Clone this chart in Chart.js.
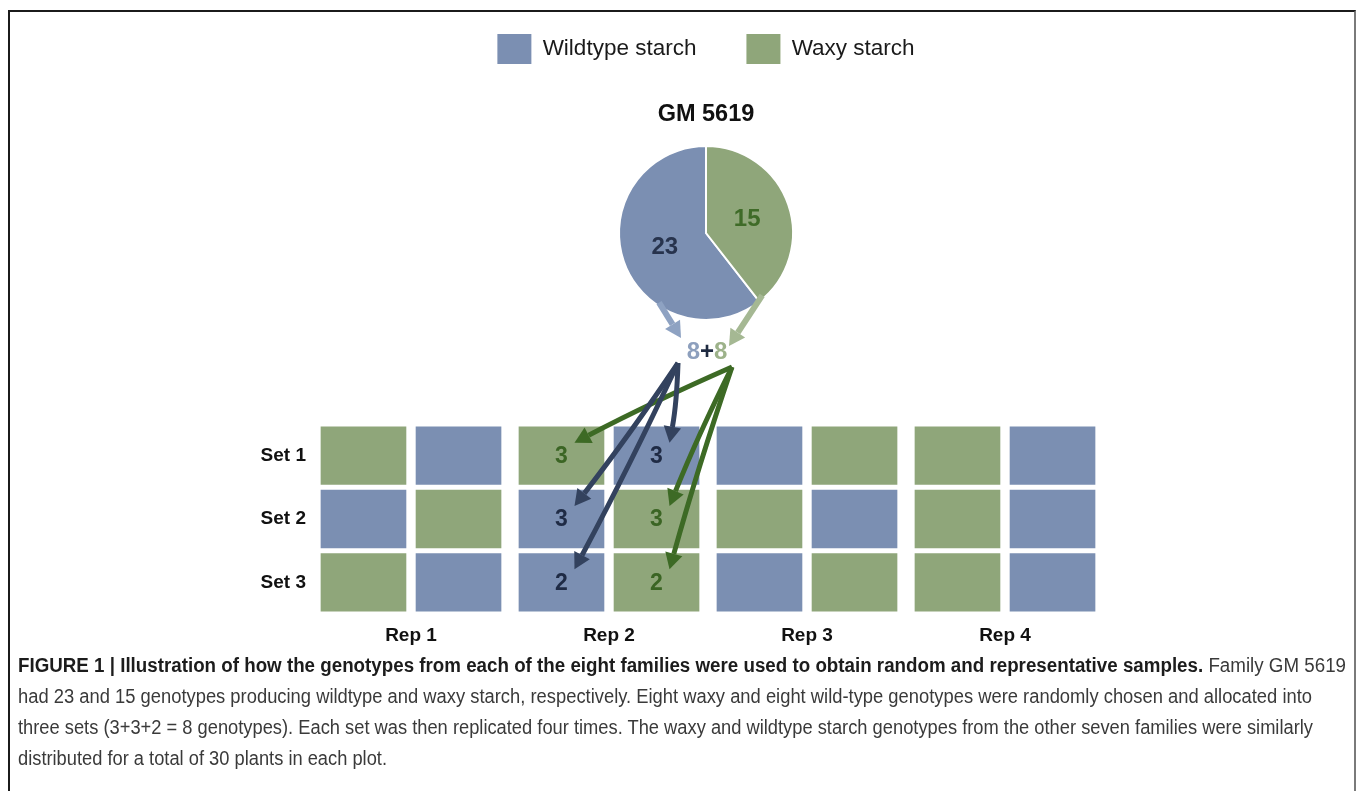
<!DOCTYPE html>
<html>
<head>
<meta charset="utf-8">
<script src="https://cdn.jsdelivr.net/npm/chart.js@4.4.1/dist/chart.umd.min.js"></script>
<style>
  html, body { margin:0; padding:0; background:#fff; width:1357px; height:791px; overflow:hidden; font-family:'Liberation Sans', Arial, sans-serif; }
  #frame { position:absolute; left:8px; top:10px; width:1344px; height:800px; border-top:2px solid #1b1b1b; border-left:2px solid #1b1b1b; border-right:2px solid #7a7a7a; }
  #gridChart { position:absolute; left:0; top:0; z-index:1; }
  #pieChart { position:absolute; left:426px; top:-16px; z-index:2; }
  #caption { position:absolute; left:18px; top:650px; z-index:3; font-size:20px; line-height:31px; color:#3a3a3a; }
  #caption .line { white-space:nowrap; transform-origin:0 0; width:max-content; }
  #caption b { color:#1c1c1c; }
</style>
</head>
<body>
<div id="frame"></div>
<canvas id="gridChart" width="1357" height="680"></canvas>
<canvas id="pieChart" width="560" height="386"></canvas>
<div id="caption">
  <div class="line" data-w="1328"><b>FIGURE 1 | Illustration of how the genotypes from each of the eight families were used to obtain random and representative samples.</b> Family GM 5619</div>
  <div class="line" data-w="1294">had 23 and 15 genotypes producing wildtype and waxy starch, respectively. Eight waxy and eight wild-type genotypes were randomly chosen and allocated into</div>
  <div class="line" data-w="1295">three sets (3+3+2 = 8 genotypes). Each set was then replicated four times. The waxy and wildtype starch genotypes from the other seven families were similarly</div>
  <div class="line" data-w="369">distributed for a total of 30 plants in each plot.</div>
</div>
<script>
var family = "'Liberation Sans', Arial, sans-serif";

// family GM 5619
var familyName = 'GM 5619';
var starchTypes = ['Wildtype starch', 'Waxy starch'];
var familyCounts = [23, 15];
var picked = [8, 8];

// field layout, T = wildtype, W = waxy (two plots per rep, left to right)
var reps = ['Rep 1', 'Rep 2', 'Rep 3', 'Rep 4'];
var sets = ['Set 1', 'Set 2', 'Set 3'];
var setCounts = [3, 3, 2];
var set1Plots = ['W', 'T', 'W', 'T', 'T', 'W', 'W', 'T'];
var set2Plots = ['T', 'W', 'T', 'W', 'W', 'T', 'W', 'T'];
var set3Plots = ['W', 'T', 'T', 'W', 'T', 'W', 'W', 'T'];
var plotRows = [set1Plots, set2Plots, set3Plots];
var shownRep = 2;

var wildColor = '#7b8fb2';
var waxyColor = '#8fa67a';
var wildLight = '#8ea2c2';
var waxyLight = '#a5b893';
var wildDark = '#33425e';
var waxyDark = '#3d6a25';

function drawArrow(ctx, x0, y0, x1, y1, bend, color, width, head) {
    var len = Math.hypot(x1 - x0, y1 - y0);
    var nx = -(y1 - y0) / len, ny = (x1 - x0) / len;
    var cx = (x0 + x1) / 2 + nx * bend, cy = (y0 + y1) / 2 + ny * bend;
    var ang = Math.atan2(y1 - cy, x1 - cx);
    var bx = x1 - Math.cos(ang) * head, by = y1 - Math.sin(ang) * head;
    ctx.save();
    ctx.strokeStyle = color;
    ctx.fillStyle = color;
    ctx.lineWidth = width;
    ctx.lineCap = 'butt';
    ctx.beginPath();
    ctx.moveTo(x0, y0);
    ctx.quadraticCurveTo(cx, cy, bx, by);
    ctx.stroke();
    var hw = head * 0.55;
    ctx.beginPath();
    ctx.moveTo(x1, y1);
    ctx.lineTo(bx + Math.cos(ang + Math.PI / 2) * hw, by + Math.sin(ang + Math.PI / 2) * hw);
    ctx.lineTo(bx - Math.cos(ang + Math.PI / 2) * hw, by - Math.sin(ang + Math.PI / 2) * hw);
    ctx.closePath();
    ctx.fill();
    ctx.restore();
}

// where "8+8" sits, below the pie centre
function pickedCenter(arc) {
    return { x: arc.x + 1, y: arc.y + 119 };
}

var piePlugin = {
    id: 'pieLabels',
    afterDraw: function (chart) {
        var ctx = chart.ctx;
        var arcs = chart.getDatasetMeta(0).data;
        var colors = ['#27334d', '#3f6b28'];
        ctx.save();
        ctx.font = 'bold 24px ' + family;
        ctx.textAlign = 'center';
        ctx.textBaseline = 'middle';
        arcs.forEach(function (arc, i) {
            var p = arc.tooltipPosition();
            ctx.fillStyle = colors[i];
            ctx.fillText(String(familyCounts[i]), p.x, p.y);
        });
        ctx.restore();

        // arrows from the pie to the picked genotypes
        var a = arcs[0];
        var pc = pickedCenter(a);
        var starts = [214, 138];
        var tips = [[-26, -14], [22, -6]];
        var cols = [wildLight, waxyLight];
        starts.forEach(function (deg, i) {
            var rad = (deg - 90) * Math.PI / 180;
            var r = a.outerRadius - 3;
            drawArrow(ctx, a.x + Math.cos(rad) * r, a.y + Math.sin(rad) * r,
                pc.x + tips[i][0], pc.y + tips[i][1], 0, cols[i], 6, 16);
        });

        // "8+8"
        ctx.save();
        ctx.font = 'bold 24px ' + family;
        ctx.textBaseline = 'middle';
        var parts = [[String(picked[0]), '#8d9fbd'], ['+', '#1e2a40'], [String(picked[1]), '#9db28a']];
        var total = parts.reduce(function (s, p) { return s + ctx.measureText(p[0]).width; }, 0);
        var x = pc.x - total / 2;
        parts.forEach(function (p) {
            ctx.fillStyle = p[1];
            ctx.fillText(p[0], x, pc.y);
            x += ctx.measureText(p[0]).width;
        });
        ctx.restore();
    }
};

var pieCanvas = document.getElementById('pieChart');
var pieChart = new Chart(pieCanvas, {
    type: 'pie',
    data: {
        labels: starchTypes,
        datasets: [{
            data: familyCounts,
            backgroundColor: [wildColor, waxyColor],
            borderColor: '#ffffff',
            borderWidth: 2,
            hoverOffset: 0
        }]
    },
    options: {
        responsive: false,
        animation: false,
        rotation: 360 * familyCounts[1] / (familyCounts[0] + familyCounts[1]),
        layout: { padding: { bottom: 49 } },
        plugins: {
            legend: {
                position: 'top',
                weight: 3000,
                labels: {
                    boxWidth: 34,
                    boxHeight: 30,
                    padding: 50,
                    color: '#1a1a1a',
                    font: { size: 22.5, family: family },
                    generateLabels: function (c) {
                        return Chart.overrides.pie.plugins.legend.labels.generateLabels(c).map(function (l) {
                            l.lineWidth = 0;
                            return l;
                        });
                    }
                }
            },
            title: {
                display: true,
                text: familyName,
                weight: 500,
                color: '#111111',
                font: { size: 23.5, weight: 'bold', family: family },
                padding: { top: 26.9, bottom: 15.9 }
            },
            tooltip: { enabled: false }
        }
    },
    plugins: [piePlugin]
});

var gridCanvas = document.getElementById('gridChart');
var sideOffset = 0.24;

var allocationPlugin = {
    id: 'allocation',
    afterDatasetsDraw: function (chart) {
        var ctx = chart.ctx;
        var xs = chart.scales.x, ys = chart.scales.y;
        var c0 = (shownRep - 1) * 2;
        var cells = [];
        plotRows.forEach(function (row, r) {
            [c0, c0 + 1].forEach(function (c, k) {
                var cx = xs.getPixelForValue(shownRep + (k === 0 ? -sideOffset : sideOffset));
                var cy = ys.getPixelForValue(r + 1);
                cells.push({ x: cx, y: cy, type: row[c], n: setCounts[r] });
            });
        });

        ctx.save();
        ctx.font = 'bold 23px ' + family;
        ctx.textAlign = 'center';
        ctx.textBaseline = 'middle';
        cells.forEach(function (cell) {
            ctx.fillStyle = cell.type === 'T' ? '#1f2b45' : '#3b6524';
            ctx.fillText(String(cell.n), cell.x, cell.y + 1);
        });
        ctx.restore();

        var arc = pieChart.getDatasetMeta(0).data[0];
        var dx = pieCanvas.offsetLeft - gridCanvas.offsetLeft;
        var dy = pieCanvas.offsetTop - gridCanvas.offsetTop;
        var pc = pickedCenter(arc);
        var origins = { T: { x: pc.x + dx - 29, y: pc.y + dy + 11 }, W: { x: pc.x + dx + 25, y: pc.y + dy + 15 } };
        cells.forEach(function (cell) {
            var o = origins[cell.type];
            var tipX = cell.x + 13, tipY = cell.y - 13;
            var bend = cell.type === 'T' ? -3 : 3;
            drawArrow(ctx, o.x, o.y, tipX, tipY, bend,
                cell.type === 'T' ? wildDark : waxyDark, 5, 16);
        });
    }
};

var gridChart = new Chart(gridCanvas, {
    type: 'bar',
    data: {
        datasets: plotRows.map(function (row, r) {
            return {
                label: sets[r],
                data: row.map(function (t, c) {
                    var rep = Math.floor(c / 2) + 1;
                    return { x: rep + (c % 2 === 0 ? -sideOffset : sideOffset), y: [r + 1 - 0.455, r + 1 + 0.455] };
                }),
                backgroundColor: row.map(function (t) { return t === 'W' ? waxyColor : wildColor; }),
                barThickness: 85,
                grouped: false,
                borderWidth: 0
            };
        })
    },
    options: {
        responsive: false,
        animation: false,
        layout: { padding: { left: 232, right: 253, top: 424, bottom: 26 } },
        plugins: { legend: { display: false }, tooltip: { enabled: false } },
        scales: {
            x: {
                type: 'linear',
                min: 0.5,
                max: 4.5,
                offset: false,
                grid: { display: false, drawTicks: false },
                border: { display: false },
                afterBuildTicks: function (s) { s.ticks = reps.map(function (_, i) { return { value: i + 1 }; }); },
                afterFit: function (s) { s.height = 40; },
                ticks: {
                    callback: function (v) { return reps[v - 1]; },
                    color: '#111111',
                    font: { size: 19, weight: 'bold', family: family },
                    padding: 10,
                    maxRotation: 0,
                    autoSkip: false
                }
            },
            y: {
                type: 'linear',
                reverse: true,
                min: 0.5,
                max: 3.5,
                grid: { display: false, drawTicks: false },
                border: { display: false },
                afterBuildTicks: function (s) { s.ticks = sets.map(function (_, i) { return { value: i + 1 }; }); },
                afterFit: function (s) { s.width = 80; },
                ticks: {
                    callback: function (v) { return sets[v - 1]; },
                    color: '#111111',
                    font: { size: 19, weight: 'bold', family: family },
                    padding: 6
                }
            }
        }
    },
    plugins: [allocationPlugin]
});

// squeeze caption lines to the width of the condensed face
document.querySelectorAll('#caption .line').forEach(function (el) {
    var w = el.getBoundingClientRect().width;
    el.style.transform = 'scaleX(' + (parseFloat(el.dataset.w) / w) + ')';
});
</script>
</body>
</html>
